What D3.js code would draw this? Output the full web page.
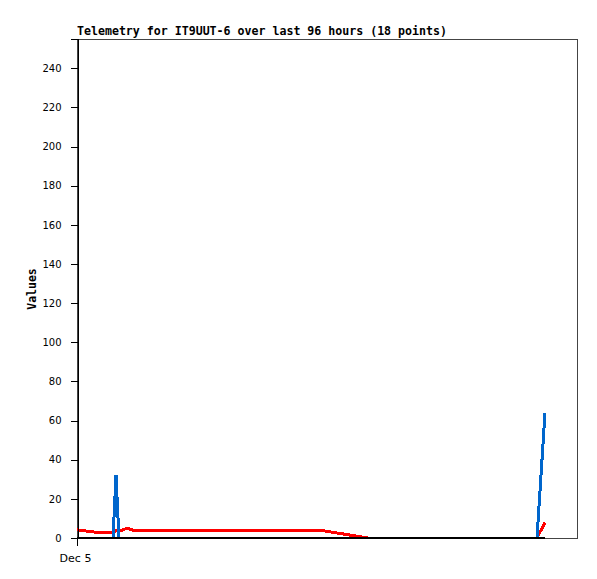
<!DOCTYPE html>
<html>
<head>
<meta charset="utf-8">
<script src="https://cdn.jsdelivr.net/npm/d3@7"></script>
<style>
  html, body { margin: 0; padding: 0; background: #fff; }
  svg { display: block; }
</style>
</head>
<body>
<svg id="chart" width="597" height="579"></svg>
<script>
// ---- data ----
const titleText = "Telemetry for IT9UUT-6 over last 96 hours (18 points)";
const yAxisLabel = "Values";
// hours since start of the 96-hour window
const hours = [0, 3.46, 5.38, 6.91, 7.49, 8.06, 8.64, 9.60, 10.75, 46.66, 51.26, 55.87, 71.62, 88.32, 88.70, 89.09, 89.47, 89.86];
const seriesRed   = [4.2, 3, 3, 3, 3.7, 3.7, 4, 5, 4, 4, 2, 0, 0, 0, 2, 4, 6, 8];
const seriesBlue  = [0, 0, 0, 0, 32, 0, 0, 0, 0, 0, 0, 0, 0, 0, 16, 32, 48, 64];
const seriesBlack = [0, 0, 0, 0, 0, 0, 0, 0, 0, 0, 0, 0, 0, 0, 0, 0, 0, 0];
const yTicks = [0, 20, 40, 60, 80, 100, 120, 140, 160, 180, 200, 220, 240];
const xTickHours = [0];
const xTickLabels = ["Dec 5"];
const yMax = 255;
const xMax = 96;

// ---- layout ----
const pLeft = 77, pRight = 577, pTop = 39, pBottom = 538;
const svg = d3.select("#chart");
const x = d3.scaleLinear().domain([0, xMax]).range([pLeft, pRight]);
const y = d3.scaleLinear().domain([0, yMax]).range([pBottom, pTop]);

// title
svg.append("text")
  .attr("x", 77).attr("y", 34.5)
  .attr("font-family", "'DejaVu Sans Mono', monospace")
  .attr("font-weight", "bold")
  .attr("font-size", "11.6px")
  .attr("fill", "#000")
  .text(titleText);

// y label
svg.append("text")
  .attr("transform", "translate(36,289) rotate(-90)")
  .attr("text-anchor", "middle")
  .attr("font-family", "'DejaVu Sans Mono', monospace")
  .attr("font-weight", "bold")
  .attr("font-size", "11.5px")
  .attr("fill", "#000")
  .text(yAxisLabel);

// frame
svg.append("rect")
  .attr("x", pLeft + 0.5).attr("y", pTop + 0.5)
  .attr("width", pRight - pLeft).attr("height", pBottom - pTop)
  .attr("fill", "none").attr("stroke", "#444").attr("stroke-width", 1)
  .attr("shape-rendering", "crispEdges");

// clip
svg.append("clipPath").attr("id", "plotclip")
  .append("rect").attr("x", pLeft).attr("y", pTop).attr("width", pRight - pLeft).attr("height", pBottom - pTop + 1);

const line = d3.line().x((d, i) => x(hours[i])).y(d => y(d));
const g = svg.append("g").attr("clip-path", "url(#plotclip)");
[[seriesRed, "#ff0000"], [seriesBlue, "#0066cc"], [seriesBlack, "#000000"]].forEach(([s, c]) => {
  g.append("path").datum(s)
    .attr("d", line)
    .attr("fill", "none")
    .attr("stroke", c)
    .attr("stroke-width", 3)
    .attr("stroke-linejoin", "miter")
    .attr("shape-rendering", "crispEdges");
});

// y axis
const yAxis = d3.axisLeft(y).tickValues(yTicks).tickSize(7).tickPadding(9).tickFormat(d3.format("d"));
const ya = svg.append("g").attr("transform", `translate(${pLeft + 0.5},0)`).call(yAxis);
ya.select(".domain").attr("stroke", "#000").attr("shape-rendering", "crispEdges");
ya.selectAll(".tick line").attr("stroke", "#000").attr("shape-rendering", "crispEdges");
ya.selectAll("text")
  .attr("font-family", "'DejaVu Sans', sans-serif")
  .attr("font-size", "10px")
  .attr("fill", "#000");

// x axis
const xAxis = d3.axisBottom(x).tickValues(xTickHours).tickSize(7).tickPadding(9)
  .tickFormat((d, i) => xTickLabels[i]);
const xa = svg.append("g").attr("transform", `translate(0,${pBottom + 0.5})`).call(xAxis);
xa.select(".domain").remove();
xa.selectAll(".tick line").attr("stroke", "#000").attr("shape-rendering", "crispEdges");
xa.selectAll("text")
  .attr("font-family", "'DejaVu Sans', sans-serif")
  .attr("font-size", "11px")
  .attr("dx", "-2")
  .attr("fill", "#000");
</script>
</body>
</html>
